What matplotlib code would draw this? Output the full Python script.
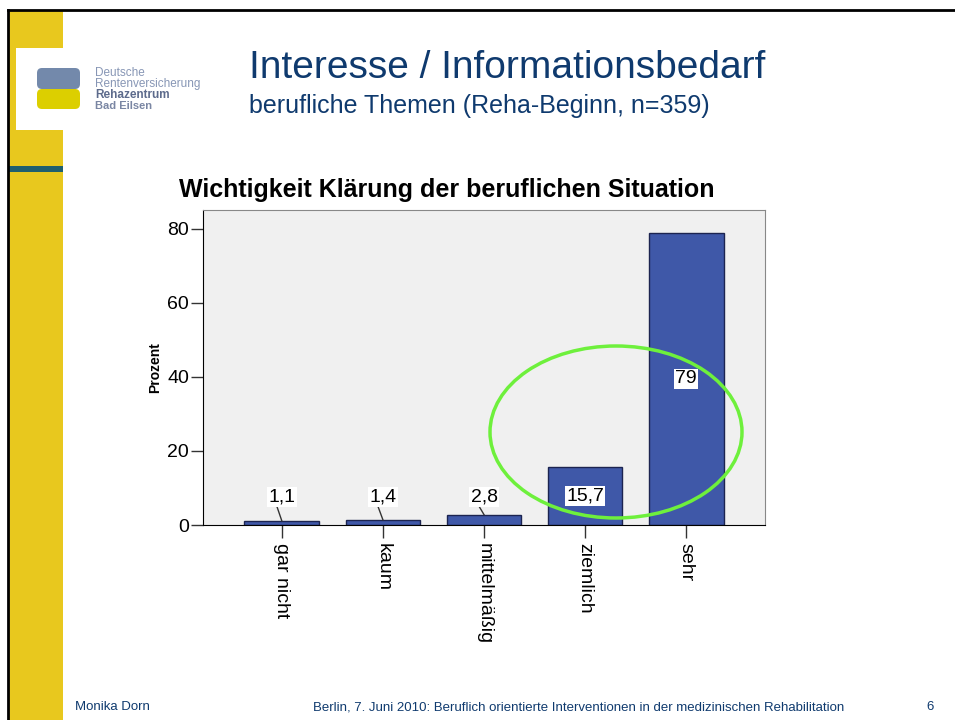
import matplotlib
matplotlib.use("Agg")
import matplotlib.pyplot as plt
from matplotlib.patches import Rectangle, FancyBboxPatch, Ellipse

plt.rcParams.update({"font.family": ["Liberation Sans", "DejaVu Sans"]})

categories = ["gar nicht", "kaum", "mittelmäßig", "ziemlich", "sehr"]
prozent = [1.1, 1.4, 2.8, 15.7, 79.0]
value_labels = ["1,1", "1,4", "2,8", "15,7", "79"]
yticks = [0, 20, 40, 60, 80]

navy = "#0f3a6e"
bar_blue = "#3f58a8"
slide_yellow = "#e8c81e"

fig = plt.figure(figsize=(9.55, 7.2), dpi=100)

# slide background in pixel coordinates
bg = fig.add_axes([0, 0, 1, 1], zorder=0)
bg.set_xlim(0, 955)
bg.set_ylim(720, 0)
bg.axis("off")
bg.add_patch(Rectangle((9, 11), 54, 709, color=slide_yellow, lw=0))
bg.add_patch(Rectangle((9, 166), 54, 6, color="#1f5f6e", lw=0))
bg.add_patch(Rectangle((16, 48), 195, 82, color="white", lw=0))
bg.plot([8, 8], [10, 720], color="black", lw=2)
bg.plot([8, 955], [10, 10], color="black", lw=2)

# logo
bg.add_patch(FancyBboxPatch((37, 68), 43, 21, boxstyle="round,pad=0,rounding_size=5",
                            fc="#7389ab", ec="none"))
bg.add_patch(FancyBboxPatch((37, 89), 43, 20, boxstyle="round,pad=0,rounding_size=5",
                            fc="#dccf00", ec="none"))
bg.text(95, 73, "Deutsche", fontsize=8.5, color="#8796b5", va="center")
bg.text(95, 84, "Rentenversicherung", fontsize=8.5, color="#8796b5", va="center")
bg.text(95, 95, "Rehazentrum", fontsize=8.5, color="#5d6b8c", va="center", weight="bold")
bg.text(95, 106, "Bad Eilsen", fontsize=8, color="#7a86a3", va="center", weight="bold")

bg.text(249, 68, "Interesse / Informationsbedarf", fontsize=28, color=navy, va="center")
bg.text(249, 106, "berufliche Themen (Reha-Beginn, n=359)", fontsize=18, color=navy,
        va="center")
bg.text(447, 190, "Wichtigkeit Klärung der beruflichen Situation", fontsize=18,
        weight="bold", ha="center", va="center")

footer = dict(fontsize=9.5, color=navy, va="center",
              family=["Liberation Sans Narrow", "Liberation Sans"])
bg.text(75, 707, "Monika Dorn", **footer)
bg.text(313, 707, "Berlin, 7. Juni 2010: Beruflich orientierte Interventionen in der "
        "medizinischen Rehabilitation", **footer)
bg.text(934, 707, "6", ha="right", **footer)

# chart
ax = fig.add_axes([203 / 955, 1 - 525 / 720, 562 / 955, 315 / 720], zorder=1)
ax.set_facecolor("#f0f0f0")
x = range(len(categories))
ax.bar(x, prozent, width=0.74, color=bar_blue, edgecolor="#1c2450", lw=1, zorder=2)
ax.set_xlim(-0.78, len(categories) - 1 + 0.78)
ax.set_ylim(0, 85.1)
ax.set_yticks(yticks)
ax.set_xticks(list(x))
ax.set_xticklabels(categories, rotation=270, fontsize=14, va="top", ha="center")
ax.tick_params(axis="y", labelsize=14, length=9, width=1, color="#333333", pad=1)
ax.tick_params(axis="x", length=9, width=1, color="#333333", pad=4)
ax.set_ylabel("Prozent", fontsize=10, weight="bold", labelpad=4)
for side in ["top", "right"]:
    ax.spines[side].set_color("#888888")
for side in ["left", "bottom"]:
    ax.spines[side].set_color("black")

for xi, v, lab in zip(x, prozent, value_labels):
    ly = max(v / 2, 7.6)
    if ly > v:
        ax.plot([xi - 0.05, xi], [ly - 2.5, v], color="#333333", lw=1, zorder=3)
    ax.text(xi, ly, lab, fontsize=14, ha="center", va="center", zorder=4,
            bbox=dict(fc="white", ec="none", pad=1))

fig.add_artist(Ellipse((616 / 100, (720 - 432) / 100), 2.52, 1.72,
                       transform=fig.dpi_scale_trans, fill=False,
                       ec="#6ef03c", lw=2.5, zorder=5))

fig.savefig("out.png", dpi=100)
